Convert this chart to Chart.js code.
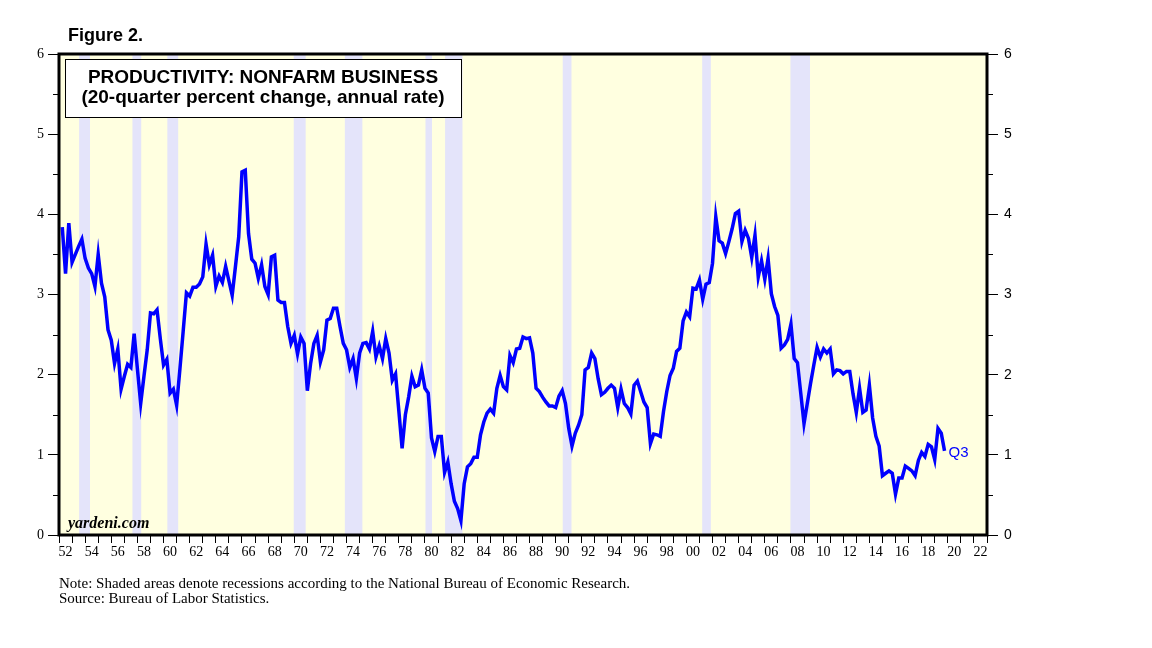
<!DOCTYPE html>
<html>
<head>
<meta charset="utf-8">
<script src="https://cdn.jsdelivr.net/npm/chart.js@4.4.0/dist/chart.umd.min.js"></script>
<style>
  html, body { margin: 0; padding: 0; background: #ffffff; }
  canvas { display: block; }
</style>
</head>
<body>
<canvas id="c" width="1152" height="648"></canvas>
<script>
// ---- Data ----
const startYear = 1952;            // first quarter plotted: 1952 Q1
const lastLabel = 'Q3';
// 20-quarter percent change, annual rate; quarterly values 1952Q1 .. 2019Q3
const productivity = [
  3.84, 3.26, 3.89, 3.40,   // 1952
  3.50, 3.60, 3.69, 3.45,   // 1953
  3.33, 3.26, 3.10, 3.50,   // 1954
  3.14, 2.97, 2.56, 2.43,   // 1955
  2.14, 2.32, 1.82, 1.98,   // 1956
  2.13, 2.09, 2.51, 2.07,   // 1957
  1.64, 1.98, 2.31, 2.77,   // 1958
  2.76, 2.81, 2.45, 2.12,   // 1959
  2.19, 1.77, 1.82, 1.62,   // 1960
  2.07, 2.54, 3.02, 2.98,   // 1961
  3.09, 3.09, 3.13, 3.22,   // 1962
  3.63, 3.37, 3.49, 3.10,   // 1963
  3.23, 3.15, 3.35, 3.17,   // 1964
  2.99, 3.35, 3.72, 4.53,   // 1965
  4.55, 3.76, 3.44, 3.39,   // 1966
  3.20, 3.37, 3.10, 3.00,   // 1967
  3.47, 3.49, 2.93, 2.90,   // 1968
  2.90, 2.60, 2.39, 2.49,   // 1969
  2.26, 2.47, 2.39, 1.80,   // 1970
  2.14, 2.39, 2.49, 2.16,   // 1971
  2.31, 2.68, 2.70, 2.83,   // 1972
  2.83, 2.60, 2.39, 2.31,   // 1973
  2.09, 2.20, 1.95, 2.27,   // 1974
  2.39, 2.40, 2.32, 2.54,   // 1975
  2.22, 2.36, 2.20, 2.45,   // 1976
  2.27, 1.93, 2.01, 1.55,   // 1977
  1.08, 1.50, 1.72, 1.98,   // 1978
  1.85, 1.87, 2.06, 1.83,   // 1979
  1.77, 1.21, 1.04, 1.23,   // 1980
  1.23, 0.78, 0.91, 0.64,   // 1981
  0.42, 0.33, 0.18, 0.64,   // 1982
  0.85, 0.89, 0.97, 0.97,   // 1983
  1.25, 1.41, 1.52, 1.57,   // 1984
  1.52, 1.83, 1.99, 1.85,   // 1985
  1.81, 2.24, 2.15, 2.32,   // 1986
  2.33, 2.47, 2.45, 2.46,   // 1987
  2.27, 1.83, 1.79, 1.72,   // 1988
  1.66, 1.61, 1.61, 1.59,   // 1989
  1.73, 1.80, 1.64, 1.33,   // 1990
  1.11, 1.27, 1.37, 1.50,   // 1991
  2.06, 2.09, 2.27, 2.20,   // 1992
  1.95, 1.75, 1.78, 1.83,   // 1993
  1.87, 1.83, 1.59, 1.82,   // 1994
  1.64, 1.59, 1.51, 1.87,   // 1995
  1.92, 1.79, 1.66, 1.59,   // 1996
  1.14, 1.26, 1.25, 1.23,   // 1997
  1.54, 1.79, 1.99, 2.08,   // 1998
  2.29, 2.33, 2.67, 2.78,   // 1999
  2.72, 3.08, 3.07, 3.18,   // 2000
  2.94, 3.13, 3.15, 3.39,   // 2001
  3.97, 3.67, 3.64, 3.51,   // 2002
  3.66, 3.82, 4.01, 4.04,   // 2003
  3.66, 3.80, 3.70, 3.46,   // 2004
  3.74, 3.22, 3.42, 3.19,   // 2005
  3.45, 3.01, 2.85, 2.74,   // 2006
  2.33, 2.37, 2.44, 2.63,   // 2007
  2.20, 2.15, 1.77, 1.39,   // 2008
  1.64, 1.89, 2.12, 2.34,   // 2009
  2.22, 2.32, 2.27, 2.32,   // 2010
  2.01, 2.06, 2.05, 2.01,   // 2011
  2.04, 2.04, 1.76, 1.53,   // 2012
  1.83, 1.53, 1.56, 1.87,   // 2013
  1.46, 1.23, 1.11, 0.74,   // 2014
  0.77, 0.80, 0.77, 0.51,   // 2015
  0.71, 0.71, 0.86, 0.83,   // 2016
  0.80, 0.74, 0.93, 1.03,   // 2017
  0.98, 1.13, 1.10, 0.94,   // 2018
  1.33, 1.27, 1.05          // 2019
];
// NBER recessions (decimal years: start, end)
const recessionStart = [1953.54, 1957.62, 1960.29, 1969.96, 1973.87, 1980.04, 1981.54, 1990.54, 2001.21, 2007.96];
const recessionEnd   = [1954.37, 1958.29, 1961.12, 1970.87, 1975.21, 1980.54, 1982.87, 1991.21, 2001.87, 2009.46];
// Axis ranges and ticks
const xMin = 1952, xMax = 2023;
const yMin = 0, yMax = 6;
const yMajorTicks = [0, 1, 2, 3, 4, 5, 6];
const yMinorTicks = [0.5, 1.5, 2.5, 3.5, 4.5, 5.5];

// Texts
const figureLabel = 'Figure 2.';
const titleLines = ['PRODUCTIVITY: NONFARM BUSINESS', '(20-quarter percent change, annual rate)'];
const watermark = 'yardeni.com';
const noteLines = [
  'Note: Shaded areas denote recessions according to the National Bureau of Economic Research.',
  'Source: Bureau of Labor Statistics.'
];

// ---- Build points (quarter-end positions) ----
const points = productivity.map((v, i) => ({ x: startYear + (i + 1) * 0.25, y: v }));

const BG = '#FFFFE0';
const BAND = '#E4E4FA';
const LINE = '#0000FF';
const serif = '"Liberation Serif", "DejaVu Serif", serif';
const sans = '"Liberation Sans", Arial, sans-serif';

const decorPlugin = {
  id: 'decor',
  beforeDatasetsDraw(chart) {
    const { ctx, chartArea: a, scales } = chart;
    ctx.save();
    ctx.fillStyle = BG;
    ctx.fillRect(a.left, a.top, a.right - a.left, a.bottom - a.top);
    ctx.fillStyle = BAND;
    for (let i = 0; i < recessionStart.length; i++) {
      const x0 = scales.x.getPixelForValue(recessionStart[i]);
      const x1 = scales.x.getPixelForValue(recessionEnd[i]);
      ctx.fillRect(x0, a.top, x1 - x0, a.bottom - a.top);
    }
    ctx.restore();
  },
  afterDatasetsDraw(chart) {
    const { ctx, chartArea: a, scales } = chart;
    ctx.save();
    // minor y ticks (short) on both sides
    ctx.strokeStyle = '#000';
    ctx.lineWidth = 1;
    ctx.beginPath();
    yMinorTicks.forEach(v => {
      const py = Math.round(scales.y.getPixelForValue(v)) + 0.5;
      ctx.moveTo(a.left - 6, py); ctx.lineTo(a.left, py);
      ctx.moveTo(a.right, py); ctx.lineTo(a.right + 6, py);
    });
    ctx.stroke();

    // frame
    ctx.lineWidth = 3;
    ctx.strokeRect(a.left, a.top, a.right - a.left, a.bottom - a.top);

    // title box
    ctx.fillStyle = '#fff';
    ctx.fillRect(65, 59, 396, 58);
    ctx.lineWidth = 1;
    ctx.strokeRect(65.5, 59.5, 396, 58);
    ctx.fillStyle = '#000';
    ctx.textAlign = 'center';
    ctx.textBaseline = 'middle';
    ctx.font = 'bold 19px ' + sans;
    ctx.fillText(titleLines[0], 263, 78);
    ctx.fillText(titleLines[1], 263, 98);

    // Q3 label at last point
    const meta = chart.getDatasetMeta(0);
    const last = meta.data[meta.data.length - 1];
    ctx.fillStyle = LINE;
    ctx.textAlign = 'left';
    ctx.font = '15px ' + sans;
    ctx.fillText(lastLabel, last.x + 4, last.y + 2);

    // watermark
    ctx.fillStyle = '#000';
    ctx.font = 'italic bold 16px ' + serif;
    ctx.fillText(watermark, 68, 524);

    // figure label
    ctx.font = 'bold 18px ' + sans;
    ctx.fillText(figureLabel, 68, 36);

    // notes
    ctx.font = '15px ' + serif;
    ctx.fillText(noteLines[0], 59, 584);
    ctx.fillText(noteLines[1], 59, 599);
    ctx.restore();
  }
};

const yAxisCommon = (pos, w, fontFamily, pad) => ({
  type: 'linear',
  position: pos,
  min: yMin, max: yMax,
  afterBuildTicks(scale) { scale.ticks = yMajorTicks.map(v => ({ value: v })); },
  afterFit(scale) { scale.width = w; },
  grid: { drawOnChartArea: false, drawTicks: true, tickLength: 11, color: '#000', lineWidth: 1 },
  border: { display: false },
  ticks: {
    color: '#000',
    padding: pad,
    font: { family: fontFamily, size: 14 },
    callback: v => String(v)
  }
});

new Chart(document.getElementById('c'), {
  type: 'line',
  data: {
    datasets: [{
      data: points,
      borderColor: LINE,
      borderWidth: 3.5,
      pointRadius: 0,
      tension: 0,
      fill: false
    }]
  },
  plugins: [decorPlugin],
  options: {
    responsive: false,
    animation: false,
    devicePixelRatio: 1,
    layout: { padding: { top: 54, left: 0, right: 0, bottom: 0 } },
    plugins: { legend: { display: false }, tooltip: { enabled: false } },
    scales: {
      x: {
        type: 'linear',
        min: xMin, max: xMax,
        afterBuildTicks(scale) {
          const t = [];
          for (let y = xMin; y <= xMax; y++) t.push({ value: y });
          scale.ticks = t;
        },
        afterFit(scale) { scale.height = 113; },
        grid: { drawOnChartArea: false, drawTicks: true, tickLength: 8, color: '#000', lineWidth: 1 },
        border: { display: false },
        ticks: {
          autoSkip: false,
          maxRotation: 0,
          labelOffset: 6.5,
          padding: 1,
          color: '#000',
          font: { family: serif, size: 14 },
          callback: v => (v % 2 === 0 && v < xMax ? String(v % 100).padStart(2, '0') : '')
        }
      },
      y: yAxisCommon('left', 59, serif, 4),
      y2: yAxisCommon('right', 165, sans, 6)
    }
  }
});
</script>
</body>
</html>
